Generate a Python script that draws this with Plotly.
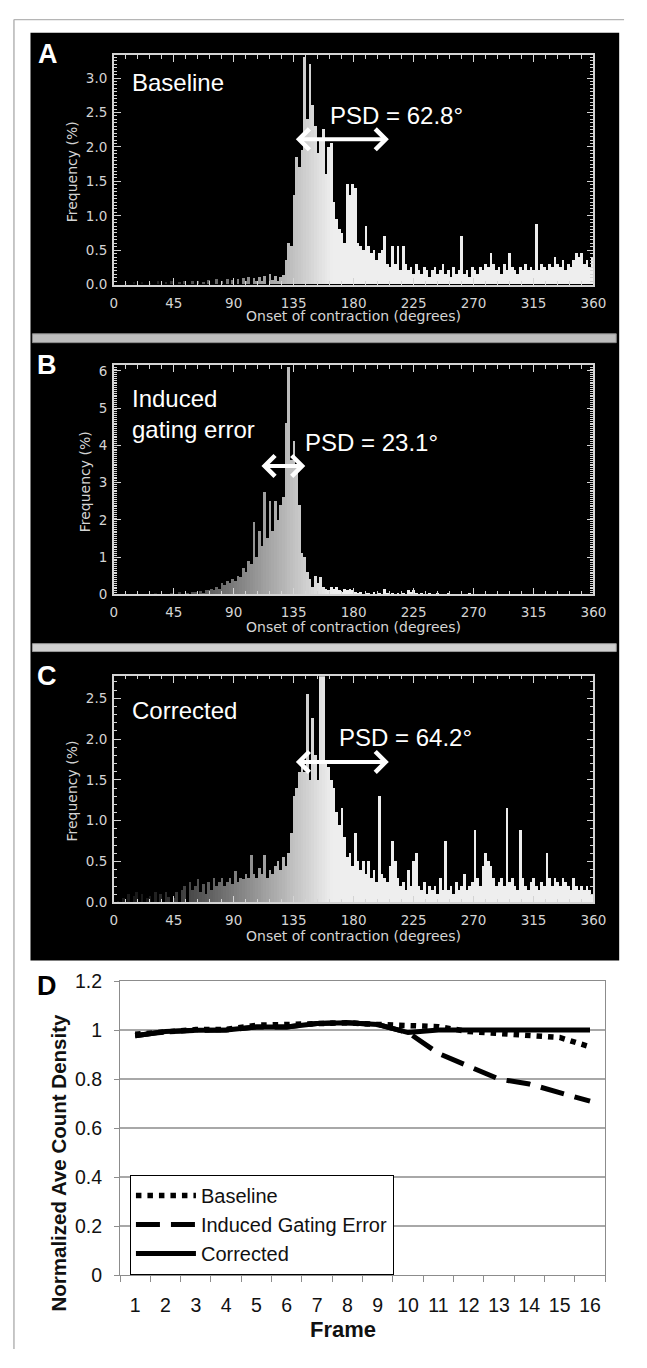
import plotly.graph_objects as go

W, H = 647, 1368          # target page size
OFF = 8                   # default page margin of the browser body
FW, FH = W - 2 * OFF, H - 2 * OFF

# ---------------- data: phase histograms (2-degree bins, % frequency) ----------------
BIN_WIDTH = 2
bin_start = list(range(0, 360, BIN_WIDTH))

freq_baseline = [
    0, 0, 0, 0, 0.02, 0, 0, 0.03, 0, 0,
    0.03, 0, 0, 0.02, 0, 0, 0.04, 0, 0, 0.03,
    0, 0.04, 0, 0, 0.03, 0, 0.05, 0, 0, 0.04,
    0, 0.05, 0, 0.03, 0, 0.06, 0, 0, 0.07, 0,
    0.05, 0, 0.07, 0, 0.06, 0, 0.08, 0, 0.09, 0.04,
    0.10, 0, 0.09, 0.04, 0.10, 0.05, 0.12, 0, 0.15, 0.06,
    0.12, 0.05, 0.10, 0.14, 0.35, 0.60, 0.55, 1.30, 1.85, 1.70,
    1.95, 3.30, 2.40, 3.20, 2.60, 2.30, 1.90, 2.10, 2.25, 1.60,
    2.00, 2.05, 1.20, 0.95, 0.80, 0.75, 0.60, 1.45, 1.30, 1.45,
    1.40, 0.60, 0.55, 0.50, 0.85, 0.55, 0.45, 0.50, 0.35, 0.45,
    0.50, 0.70, 0.30, 0.25, 0.55, 0.30, 0.55, 0.20, 0.55, 0.30,
    0.20, 0.25, 0.15, 0.30, 0.20, 0.15, 0.25, 0.20, 0.10, 0.20,
    0.25, 0.15, 0.20, 0.30, 0.15, 0.20, 0.10, 0.25, 0.15, 0.20,
    0.70, 0.15, 0.20, 0.10, 0.25, 0.20, 0.15, 0.25, 0.20, 0.30,
    0.25, 0.45, 0.30, 0.20, 0.25, 0.15, 0.30, 0.20, 0.45, 0.25,
    0.20, 0.15, 0.25, 0.20, 0.30, 0.20, 0.25, 0.20, 0.88, 0.20,
    0.30, 0.25, 0.20, 0.30, 0.25, 0.40, 0.30, 0.25, 0.35, 0.20,
    0.30, 0.25, 0.35, 0.45, 0.40, 0.45, 0.30, 0.35, 0.25, 0.40,
]

freq_induced = [
    0, 0, 0, 0, 0, 0, 0, 0, 0, 0,
    0, 0, 0, 0, 0, 0.04, 0, 0, 0, 0,
    0, 0.03, 0, 0, 0.05, 0, 0, 0.04, 0, 0.06,
    0.05, 0, 0.08, 0.04, 0.10, 0.10, 0.15, 0.10, 0.20, 0.15,
    0.30, 0.25, 0.35, 0.30, 0.40, 0.35, 0.50, 0.45, 0.70, 0.60,
    0.90, 0.80, 1.95, 1.00, 1.70, 1.30, 2.75, 1.50, 2.50, 1.70,
    2.50, 2.00, 2.40, 2.60, 4.60, 6.10, 3.60, 4.10, 3.40, 2.40,
    1.10, 1.00, 0.60, 0.40, 0.20, 0.50, 0.30, 0.45, 0.20, 0.15,
    0.10, 0.20, 0.15, 0.20, 0.10, 0.05, 0.15, 0.10, 0.15, 0.10,
    0.05, 0.03, 0.05, 0, 0.04, 0.03, 0, 0.05, 0, 0.03,
    0, 0.15, 0.03, 0, 0.04, 0, 0.03, 0, 0.02, 0,
    0.10, 0.05, 0.10, 0.03, 0, 0.02, 0, 0, 0.03, 0,
    0, 0.02, 0, 0, 0, 0.02, 0, 0, 0, 0,
    0, 0, 0, 0.02, 0, 0, 0, 0, 0, 0,
    0, 0, 0, 0, 0, 0, 0, 0, 0, 0,
    0, 0, 0, 0, 0, 0, 0, 0, 0, 0,
    0, 0, 0, 0, 0, 0, 0, 0, 0, 0,
    0, 0, 0, 0, 0, 0, 0, 0, 0, 0,
]

freq_corrected = [
    0, 0.02, 0, 0.05, 0, 0.10, 0, 0.08, 0.12, 0,
    0.10, 0, 0.05, 0.08, 0, 0.12, 0, 0.10, 0, 0.12,
    0.06, 0, 0.05, 0.12, 0, 0.15, 0.20, 0, 0.25, 0.15,
    0.20, 0.28, 0.12, 0.22, 0.10, 0.25, 0.15, 0.30, 0.20, 0.25,
    0.30, 0.20, 0.25, 0.30, 0.22, 0.38, 0.25, 0.30, 0.28, 0.35,
    0.30, 0.58, 0.35, 0.30, 0.42, 0.35, 0.58, 0.30, 0.40, 0.35,
    0.45, 0.50, 0.40, 0.55, 0.45, 0.60, 0.85, 1.30, 1.40, 1.60,
    1.70, 1.60, 2.55, 1.50, 2.25, 1.80, 1.50, 2.80, 2.80, 1.70,
    1.65, 1.50, 1.40, 1.10, 0.95, 1.15, 0.80, 0.55, 0.60, 0.45,
    0.85, 0.50, 0.40, 0.50, 0.35, 0.50, 0.30, 0.40, 0.25, 1.30,
    0.35, 0.30, 0.25, 0.45, 0.75, 0.50, 0.30, 0.20, 0.25, 0.15,
    0.40, 0.20, 0.50, 0.60, 0.20, 0.15, 0.25, 0.10, 0.20, 0.15,
    0.20, 0.10, 0.30, 0.15, 0.75, 0.15, 0.20, 0.10, 0.25, 0.15,
    0.20, 0.35, 0.15, 0.20, 0.25, 0.88, 0.30, 0.20, 0.45, 0.60,
    0.50, 0.45, 0.30, 0.20, 0.25, 0.30, 0.20, 1.15, 0.25, 0.30,
    0.20, 0.15, 0.88, 0.30, 0.20, 0.15, 0.25, 0.30, 0.20, 0.15,
    0.25, 0.20, 0.60, 0.30, 0.20, 0.30, 0.25, 0.20, 0.30, 0.25,
    0.20, 0.15, 0.30, 0.20, 0.15, 0.20, 0.15, 0.20, 0.15, 0.10,
]

panel_letters = ["A", "B", "C"]
panel_titles = ["Baseline", "Induced<br>gating error", "Corrected"]
psd_labels = ["PSD = 62.8°", "PSD = 23.1°", "PSD = 64.2°"]
arrow_from = [135.5, 109.7, 135.5]     # degrees
arrow_to = [206.4, 143.7, 206.4]       # degrees
arrow_level = [2.11, 3.45, 1.72]       # frequency (%)
y_top = [3.33, 6.15, 2.77]
y_major = [0.5, 1, 0.5]
y_minor = [0.05, 0.05, 0.1]
y_fmt = [".1f", "d", ".1f"]

# ---------------- data: panel D ----------------
frames = list(range(1, 17))
d_baseline = [0.983, 0.994, 1.002, 1.003, 1.020, 1.023, 1.027, 1.030,
              1.023, 1.020, 1.014, 0.994, 0.986, 0.977, 0.970, 0.932]
d_induced = [0.977, 0.994, 0.999, 1.000, 1.013, 1.013, 1.027, 1.030,
             1.023, 0.990, 0.905, 0.850, 0.800, 0.780, 0.745, 0.710]
d_corrected = [0.977, 0.994, 0.999, 1.000, 1.013, 1.013, 1.027, 1.030,
               1.023, 0.990, 1.000, 1.000, 1.000, 1.000, 1.000, 1.000]

# ---------------- layout helpers (page-pixel geometry -> paper fraction) ----------------
def px_x(p):
    return (p - OFF) / FW

def px_y(p):
    return 1 - (p - OFF) / FH

ARIAL = "Arial, Liberation Sans, sans-serif"
IDL = "DejaVu Sans, sans-serif"
AX_COL = "#d4d4d4"

hist_left, hist_right = 112.6, 605.6
hist_rows = [(45, 278), (360, 593), (676, 906)]
letter_pos = [(45.5, 44), (43.5, 359.5), (43.5, 676)]
title_pos = [(129, 72.5), (129, 410), (129, 711)]
psd_pos = [(333, 106), (307, 438.5), (342, 738.5)]
xtitle_y = [310, 626, 940]
ytitle_x = [70, 82.5, 70]

def shade(deg):
    g = int(min(238, max(25, 1.55 * deg - 15)))
    return f"rgb({g},{g},{g})"

fig = go.Figure()
series = [freq_baseline, freq_induced, freq_corrected]
centers = [s + BIN_WIDTH / 2 for s in bin_start]
colors = [shade(c) for c in centers]

layout = dict(
    width=FW, height=FH,
    margin=dict(l=0, r=0, t=0, b=0),
    paper_bgcolor="white",
    plot_bgcolor="rgba(0,0,0,0)",
    bargap=0,
    showlegend=True,
)

shapes = [
    dict(type="line", xref="paper", yref="paper", x0=px_x(10), x1=px_x(637), y0=px_y(8.6), y1=px_y(8.6),
         line=dict(color="#b5b5b5", width=1.2), layer="below"),
    dict(type="line", xref="paper", yref="paper", x0=px_x(10), x1=px_x(10), y0=px_y(8.6), y1=px_y(1360),
         line=dict(color="#b5b5b5", width=1.5), layer="below"),
    dict(type="rect", xref="paper", yref="paper", x0=px_x(27), x1=px_x(632), y0=px_y(965), y1=px_y(22),
         fillcolor="black", line=dict(width=0), layer="below"),
    dict(type="rect", xref="paper", yref="paper", x0=px_x(29), x1=px_x(629), y0=px_y(337), y1=px_y(328),
         fillcolor="#bdbdbd", line=dict(color="#8a8a8a", width=1), layer="below"),
    dict(type="rect", xref="paper", yref="paper", x0=px_x(29), x1=px_x(629), y0=px_y(651), y1=px_y(643),
         fillcolor="#d0d0d0", line=dict(color="#9a9a9a", width=1), layer="below"),
]

annotations = []

for i in range(3):
    xa = "x" if i == 0 else f"x{i+1}"
    ya = "y" if i == 0 else f"y{i+1}"
    xk = "xaxis" if i == 0 else f"xaxis{i+1}"
    yk = "yaxis" if i == 0 else f"yaxis{i+1}"
    top, bot = hist_rows[i]
    fig.add_trace(go.Bar(
        x=centers, y=series[i], width=BIN_WIDTH, xaxis=xa, yaxis=ya,
        marker=dict(color=colors, line=dict(width=0)), showlegend=False, hoverinfo="skip",
    ))
    layout[xk] = dict(
        domain=[px_x(hist_left), px_x(hist_right)], anchor=ya, range=[0, 360],
        tick0=0, dtick=45, ticks="inside", ticklen=7, tickwidth=1, tickcolor=AX_COL,
        minor=dict(dtick=9, tick0=0, ticks="inside", ticklen=3.5, tickwidth=1, tickcolor=AX_COL, showgrid=False),
        showline=True, linecolor=AX_COL, linewidth=1.5, mirror="allticks",
        showgrid=False, zeroline=False, ticklabelstandoff=5,
        tickfont=dict(family=IDL, size=13.5, color=AX_COL),
    )
    layout[yk] = dict(
        domain=[px_y(bot), px_y(top)], anchor=xa, range=[0, y_top[i]],
        tick0=0, dtick=y_major[i], tickformat=y_fmt[i],
        ticks="inside", ticklen=7, tickwidth=1, tickcolor=AX_COL,
        minor=dict(dtick=y_minor[i], tick0=0, ticks="inside", ticklen=3.5, tickwidth=1, tickcolor=AX_COL, showgrid=False),
        showline=True, linecolor=AX_COL, linewidth=1.5, mirror="allticks",
        showgrid=False, zeroline=False, ticklabelstandoff=2,
        tickfont=dict(family=IDL, size=13.5, color=AX_COL),
    )
    annotations.append(dict(text="Onset of contraction (degrees)", xref="paper", yref="paper",
                            x=px_x((hist_left + hist_right) / 2), y=px_y(xtitle_y[i]),
                            xanchor="center", yanchor="middle", showarrow=False,
                            font=dict(family=IDL, size=14, color=AX_COL)))
    annotations.append(dict(text="Frequency (%)", xref="paper", yref="paper", textangle=-90,
                            x=px_x(ytitle_x[i]), y=px_y((top + bot) / 2 + 2),
                            xanchor="center", yanchor="middle", showarrow=False,
                            font=dict(family=IDL, size=14, color=AX_COL)))
    annotations.append(dict(text=f"<b>{panel_letters[i]}</b>", xref="paper", yref="paper",
                            x=px_x(letter_pos[i][0]), y=px_y(letter_pos[i][1]),
                            xanchor="center", yanchor="middle", showarrow=False,
                            font=dict(family=ARIAL, size=27, color="white")))
    annotations.append(dict(text=panel_titles[i], xref="paper", yref="paper",
                            x=px_x(title_pos[i][0]), y=px_y(title_pos[i][1]),
                            xanchor="left", yanchor="middle", align="left", showarrow=False,
                            font=dict(family=ARIAL, size=24, color="white")))
    annotations.append(dict(text=psd_labels[i], xref="paper", yref="paper",
                            x=px_x(psd_pos[i][0]), y=px_y(psd_pos[i][1]),
                            xanchor="left", yanchor="middle", showarrow=False,
                            font=dict(family=ARIAL, size=24, color="white")))
    annotations.append(dict(text="", x=arrow_to[i], y=arrow_level[i], xref=xa, yref=ya,
                            ax=arrow_from[i], ay=arrow_level[i], axref=xa, ayref=ya,
                            showarrow=True, arrowside="end+start", arrowhead=4, startarrowhead=4,
                            arrowwidth=4, arrowsize=1, startarrowsize=1, arrowcolor="white",
                            standoff=0, startstandoff=0))

# ---------------- panel D ----------------
d_left, d_right, d_top, d_bot = 119, 617.6, 986, 1285
fig.add_trace(go.Scatter(x=frames, y=d_baseline, name="Baseline", mode="lines",
                         line=dict(color="black", width=5.5, dash="5.5px,6px"),
                         xaxis="x4", yaxis="y4"))
fig.add_trace(go.Scatter(x=frames, y=d_induced, name="Induced Gating Error", mode="lines",
                         line=dict(color="black", width=5, dash="24px,11px"),
                         xaxis="x4", yaxis="y4"))
fig.add_trace(go.Scatter(x=frames, y=d_corrected, name="Corrected", mode="lines",
                         line=dict(color="black", width=5),
                         xaxis="x4", yaxis="y4"))

layout["xaxis4"] = dict(
    domain=[px_x(d_left), px_x(d_right)], anchor="y4", range=[0.5, 16.5],
    tickmode="array", tickvals=frames, ticktext=[str(f) for f in frames], ticks="",
    minor=dict(tick0=0.5, dtick=1, ticks="outside", ticklen=6, tickwidth=1, tickcolor="#8c8c8c", showgrid=False),
    showline=True, linecolor="#8c8c8c", linewidth=1.2, mirror=True,
    showgrid=False, zeroline=False, ticklabelstandoff=12,
    tickfont=dict(family=ARIAL, size=19.5, color="#111111"),
)
layout["yaxis4"] = dict(
    domain=[px_y(d_bot), px_y(d_top)], anchor="x4", range=[0, 1.2],
    tick0=0, dtick=0.2, ticks="outside", ticklen=5, tickcolor="#8c8c8c",
    showline=True, linecolor="#8c8c8c", linewidth=1.2, mirror=True,
    showgrid=True, gridcolor="#a8a8a8", gridwidth=1.5, zeroline=False, ticklabelstandoff=8,
    tickfont=dict(family=ARIAL, size=19.5, color="#111111"),
)
annotations.append(dict(text="<b>Normalized Ave Count Density</b>", xref="paper", yref="paper", textangle=-90,
                        x=px_x(55.7), y=px_y(1170), xanchor="center", yanchor="middle", showarrow=False,
                        font=dict(family=ARIAL, size=20.5, color="#111111")))
annotations.append(dict(text="<b>Frame</b>", xref="paper", yref="paper",
                        x=px_x(348.6), y=px_y(1340), xanchor="center", yanchor="middle", showarrow=False,
                        font=dict(family=ARIAL, size=22, color="#111111")))
annotations.append(dict(text="<b>D</b>", xref="paper", yref="paper",
                        x=px_x(44), y=px_y(991.5), xanchor="center", yanchor="middle", showarrow=False,
                        font=dict(family=ARIAL, size=27, color="black")))

layout["legend"] = dict(
    x=px_x(129), y=px_y(1183), xanchor="left", yanchor="top",
    bgcolor="white", bordercolor="black", borderwidth=1.2,
    font=dict(family=ARIAL, size=20, color="#111111"),
    itemwidth=60, tracegroupgap=0,
)
layout["shapes"] = shapes
layout["annotations"] = annotations

fig.update_layout(**layout)
fig.write_html("out.html", config={"displayModeBar": False})
